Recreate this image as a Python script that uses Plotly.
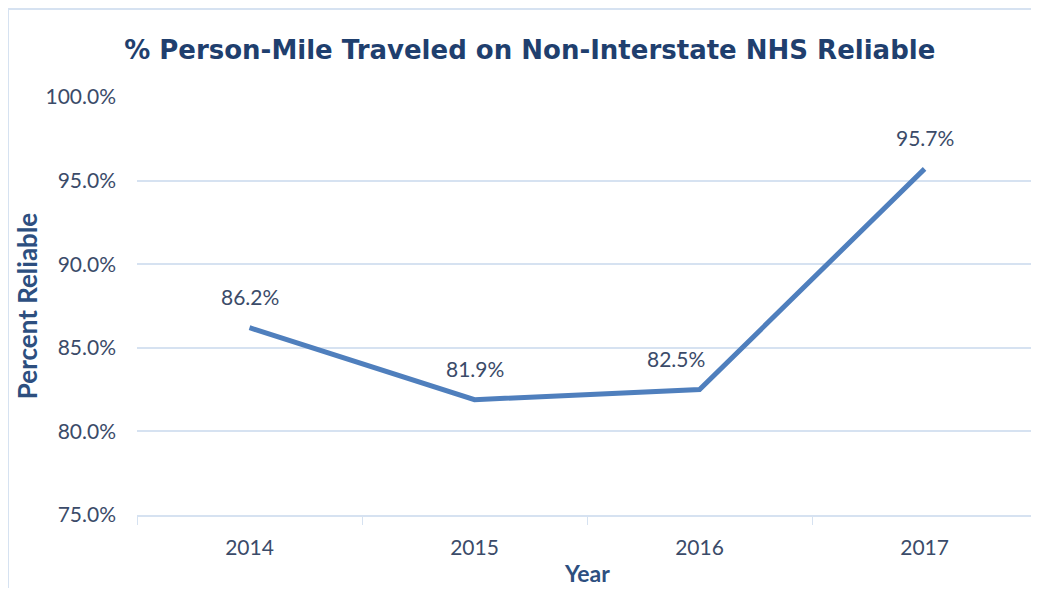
import plotly.graph_objects as go

# Chart data
years = ["2014", "2015", "2016", "2017"]
pct_reliable = [86.2, 81.9, 82.5, 95.7]
labels = [f"{v:.1f}%" for v in pct_reliable]

y_ticks = [75, 80, 85, 90, 95, 100]
y_tick_labels = [f"{v:.1f}%" for v in y_ticks]

# Style
LINE_COLOR = "#4f7fbd"
TEXT_COLOR = "#3b4b69"
TITLE_COLOR = "#1f3f6e"
AXIS_TITLE_COLOR = "#2d4f7f"
GRID_COLOR = "#d6e2f1"
FONT = "Lato, Open Sans, sans-serif"

# The 2016 label is nudged left so it clears the rising segment
LABEL_XSHIFT = {2: -24}

# The page body keeps its default 8px margin, so the figure is sized to fit
# the 1039x596 window exactly
FIG_W, FIG_H = 1023, 580

fig = go.Figure()

fig.add_trace(go.Scatter(
    x=years,
    y=pct_reliable,
    mode="lines",
    line=dict(color=LINE_COLOR, width=5),
    showlegend=False,
    hoverinfo="skip",
))

# Data labels sit about 30px above each point
for i, (val, lab) in enumerate(zip(pct_reliable, labels)):
    fig.add_annotation(
        x=i, y=val, text=lab,
        xref="x", yref="y",
        showarrow=False,
        yshift=31,
        xshift=LABEL_XSHIFT.get(i, 0),
        font=dict(family=FONT, size=21, color=TEXT_COLOR),
    )

# x axis title as an annotation, placed as low as fits in the page
fig.add_annotation(
    text="<b>Year</b>",
    xref="paper", yref="paper",
    x=0.503, y=-0.139,
    xanchor="center", yanchor="middle",
    showarrow=False,
    font=dict(family=FONT, size=23, color=AXIS_TITLE_COLOR),
)

fig.update_layout(
    width=FIG_W,
    height=FIG_H,
    margin=dict(l=129, r=0, t=89, b=73),
    paper_bgcolor="white",
    plot_bgcolor="white",
    font=dict(family=FONT, color=TEXT_COLOR),
    title=dict(
        text="<b>% Person-Mile Traveled on Non-Interstate NHS Reliable</b>",
        x=0.510,
        xanchor="center",
        y=0.928,
        yanchor="middle",
        font=dict(family="DejaVu Sans, sans-serif", size=26, color=TITLE_COLOR),
    ),
)

fig.update_xaxes(
    type="category",
    range=[-0.5, 3.473],
    automargin=False,
    showgrid=False,
    showline=True,
    linecolor=GRID_COLOR,
    linewidth=1.5,
    ticks="outside",
    tickson="boundaries",
    ticklen=8,
    tickcolor=GRID_COLOR,
    tickfont=dict(family=FONT, size=21, color=TEXT_COLOR),
    ticklabelstandoff=13,
)

fig.update_yaxes(
    range=[75, 100],
    automargin=False,
    tickvals=y_ticks,
    ticktext=y_tick_labels,
    showgrid=True,
    gridcolor=GRID_COLOR,
    gridwidth=1.5,
    zeroline=False,
    showline=False,
    ticks="",
    tickfont=dict(family=FONT, size=21, color=TEXT_COLOR),
    ticklabelstandoff=20,
    title=dict(text="<b>Percent Reliable</b>", font=dict(family=FONT, size=26, color=AXIS_TITLE_COLOR),
               standoff=0),
)

# Outer chart border
fig.add_shape(
    type="rect",
    xref="paper", yref="paper",
    x0=-0.1443, x1=1.05,
    y0=-0.3, y1=1.2105,
    line=dict(color=GRID_COLOR, width=2),
    fillcolor="rgba(0,0,0,0)",
    layer="below",
)

fig.write_html("out.html")
